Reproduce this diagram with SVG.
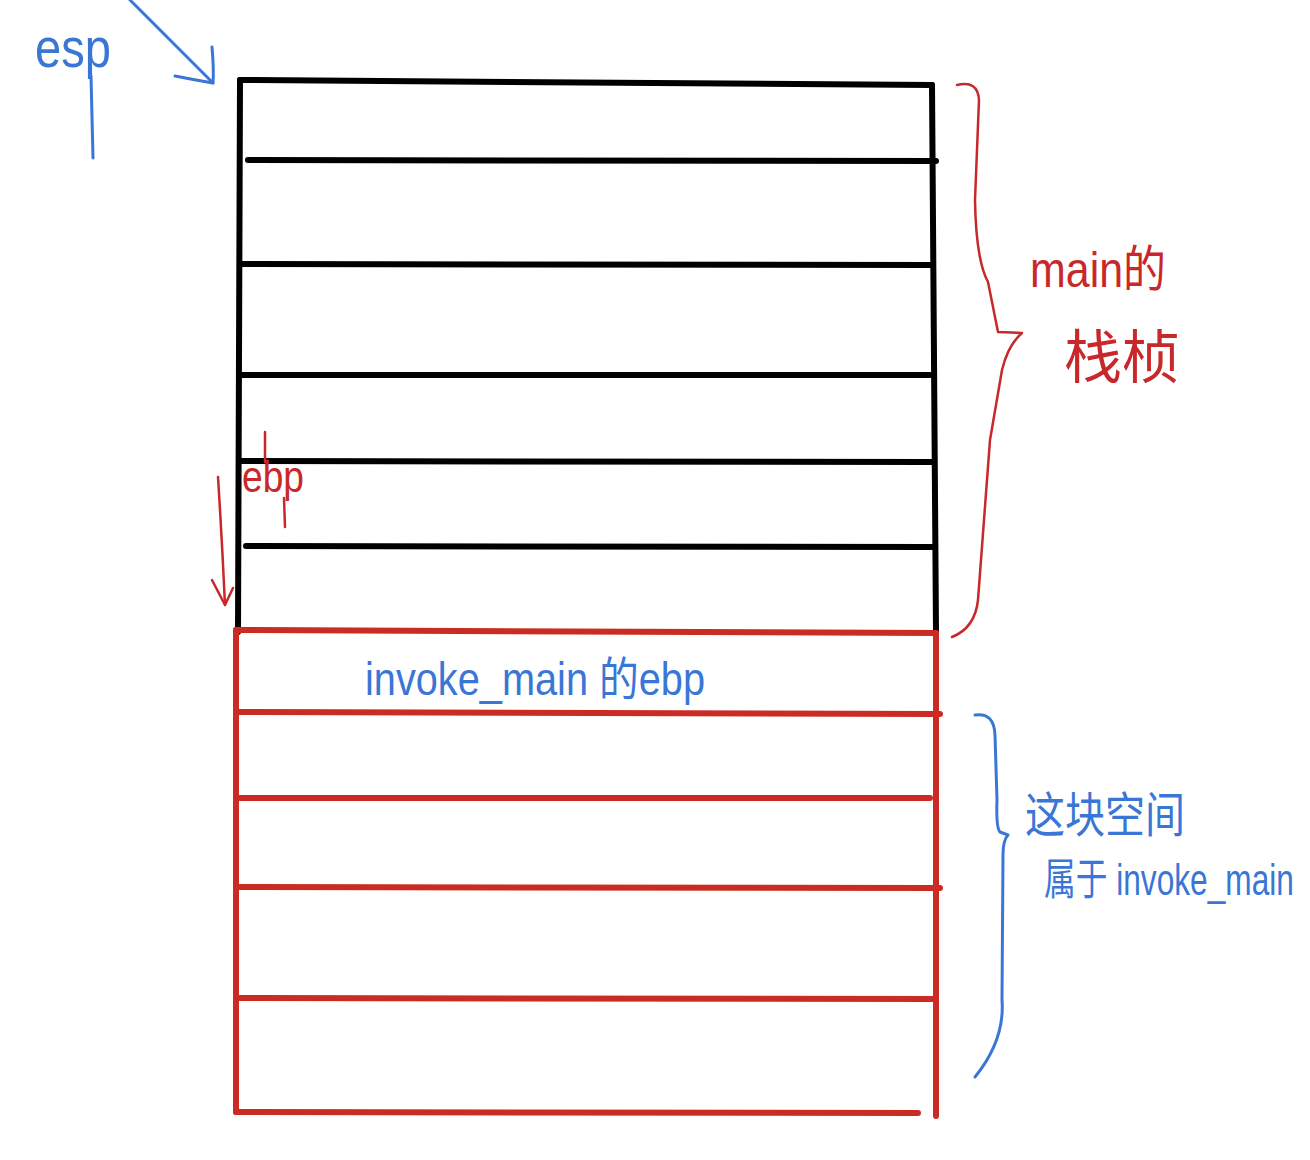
<svg xmlns="http://www.w3.org/2000/svg" width="1310" height="1160" viewBox="0 0 1310 1160">
  <style>
    .blk { stroke: #000; stroke-width: 6; stroke-linecap: round; fill: none; }
    .red { stroke: #cc2a24; stroke-width: 6; stroke-linecap: round; fill: none; }
    .rpen { stroke: #c8282a; stroke-width: 2.5; stroke-linecap: round; stroke-linejoin: round; fill: none; }
    .bpen { stroke: #3a76d6; stroke-width: 3; stroke-linecap: round; stroke-linejoin: round; fill: none; }
    .tr { fill: #c8282a; font-family: "Liberation Sans", "Noto Sans CJK SC", sans-serif; }
    .tb { fill: #3a76d6; font-family: "Liberation Sans", "Noto Sans CJK SC", sans-serif; }
  </style>
  <rect width="1310" height="1160" fill="#fff"/>

  <g id="main-frame">
    <path class="blk" d="M240,80 L932,85"/>
    <path class="blk" d="M240,80 L238,632"/>
    <path class="blk" d="M932,85 L936,632"/>
    <path class="blk" d="M248,160 L936,161"/>
    <path class="blk" d="M242,264 L932,265"/>
    <path class="blk" d="M240,375 L930,375"/>
    <path class="blk" d="M240,461 L932,462"/>
    <path class="blk" d="M246,546 L932,547"/>
  </g>

  <g id="invoke-main-frame">
    <path class="red" d="M236,630 L936,633"/>
    <path class="red" d="M236,630 L236,1112"/>
    <path class="red" d="M936,633 L936,1116"/>
    <path class="red" d="M236,712 L940,714"/>
    <path class="red" d="M240,798 L930,798"/>
    <path class="red" d="M240,887 L940,888"/>
    <path class="red" d="M240,998 L936,999"/>
    <path class="red" d="M236,1112 L918,1113"/>
    <text class="tb" x="365" y="695" font-size="46" textLength="340" lengthAdjust="spacingAndGlyphs">invoke_main 的ebp</text>
  </g>

  <g id="esp-label">
    <text class="tb" x="35" y="67" font-size="56" textLength="76" lengthAdjust="spacingAndGlyphs">esp</text>
    <path class="bpen" d="M91,76 Q92,120 93,158"/>
  </g>

  <g id="ebp-label">
    <text class="tr" x="242" y="492" font-size="44" textLength="62" lengthAdjust="spacingAndGlyphs">ebp</text>
    <path class="rpen" d="M265,432 L265,462"/>
    <path class="rpen" d="M284,498 L285,527"/>
  </g>

  <g id="main-frame-label">
    <text class="tr" x="1030" y="287" font-size="50" textLength="136" lengthAdjust="spacingAndGlyphs">main的</text>
    <text class="tr" x="1064" y="378" font-size="58" textLength="116" lengthAdjust="spacingAndGlyphs">栈桢</text>
  </g>

  <g id="invoke-main-label">
    <text class="tb" x="1025" y="832" font-size="48" textLength="160" lengthAdjust="spacingAndGlyphs">这块空间</text>
    <text class="tb" transform="translate(1044,895) scale(0.72,1)" x="0" y="0" font-size="44">属于 invoke_main</text>
  </g>

  <g id="connectors">
    <!-- esp arrow -->
    <path class="bpen" d="M130,0 Q170,40 213,83"/>
    <path class="bpen" d="M212,47 Q214,70 213,83 Q195,80 175,76"/>
    <!-- ebp arrow -->
    <path class="rpen" d="M218,477 Q222,540 225,605"/>
    <path class="rpen" d="M212,580 L225,605 L233,588"/>
    <!-- main frame brace -->
    <path class="rpen" d="M957,85 Q978,80 979,100 L975,200 Q976,260 988,282 L998,332 L1022,333 Q1008,345 1002,370 L990,440 L978,600 Q975,628 952,637"/>
    <!-- invoke_main brace -->
    <path class="bpen" d="M975,715 Q994,712 995,735 L997,800 Q996,828 1000,832 L1008,835 Q1003,840 1003,855 L1002,1000 Q1005,1040 975,1077"/>
  </g>
</svg>
